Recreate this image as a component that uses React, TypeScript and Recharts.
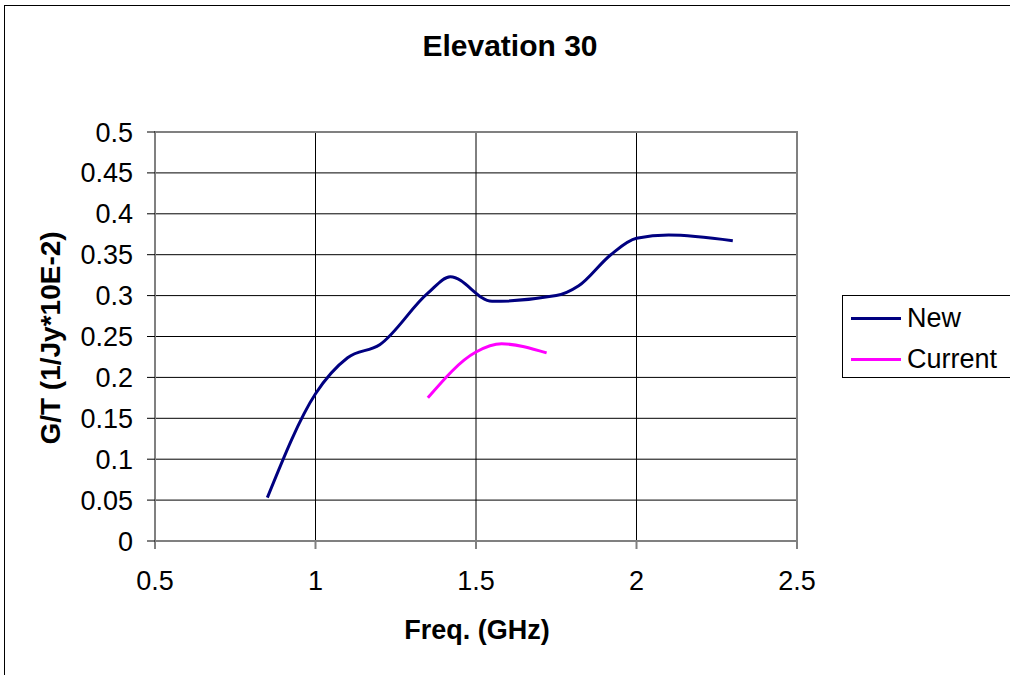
import React from 'react';
import { LineChart, Line, XAxis, YAxis, CartesianGrid, ReferenceArea, Legend } from 'recharts';

// G/T measurements at elevation 30 deg
const newFeed = [
  { freq: 0.85, gt: 0.053 },
  { freq: 1.0, gt: 0.18 },
  { freq: 1.1, gt: 0.224 },
  { freq: 1.2, gt: 0.24 },
  { freq: 1.35, gt: 0.303 },
  { freq: 1.42, gt: 0.323 },
  { freq: 1.55, gt: 0.293 },
  { freq: 1.75, gt: 0.3 },
  { freq: 1.82, gt: 0.312 },
  { freq: 1.92, gt: 0.35 },
  { freq: 2.0, gt: 0.37 },
  { freq: 2.1, gt: 0.374 },
  { freq: 2.3, gt: 0.367 },
];

const currentFeed = [
  { freq: 1.35, gt: 0.175 },
  { freq: 1.5, gt: 0.231 },
  { freq: 1.58, gt: 0.241 },
  { freq: 1.72, gt: 0.23 },
];

const seriesNames = ['New', 'Current'];

const xTicks = [0.5, 1, 1.5, 2, 2.5];
const yTicks = [0, 0.05, 0.1, 0.15, 0.2, 0.25, 0.3, 0.35, 0.4, 0.45, 0.5];

const FONT = '"Liberation Sans", Arial, sans-serif';

// legend keeps the series order instead of the alphabetical one
const LegendBox = ({ payload }: any) => {
  const items = [...(payload || [])].sort(
    (a: any, b: any) => seriesNames.indexOf(a.value) - seriesNames.indexOf(b.value)
  );
  return (
    <div
      style={{
        position: 'relative',
        width: 200,
        height: 81,
        border: '1px solid #000',
        background: '#fff',
        fontFamily: FONT,
        fontSize: 27,
        color: '#000',
      }}
    >
      {items.map((p: any, i: number) => (
        <div
          key={p.value}
          style={{ position: 'absolute', left: 8, top: 6 + i * 41, height: 32, display: 'flex', alignItems: 'center' }}
        >
          <div style={{ width: 50, height: 3, background: p.color, marginRight: 6 }} />
          <span style={{ lineHeight: '32px' }}>{p.value}</span>
        </div>
      ))}
    </div>
  );
};

export default function App() {
  return (
    <div
      style={{
        position: 'fixed',
        left: 0,
        top: 0,
        width: 1010,
        height: 675,
        overflow: 'hidden',
        background: '#fff',
        fontFamily: FONT,
      }}
    >
      <div
        style={{
          position: 'absolute',
          left: 4,
          top: 5,
          width: 1100,
          height: 800,
          border: '1px solid #000',
        }}
      />
      <div style={{ position: 'absolute', left: 0, top: 0 }}>
        <LineChart
          width={1010}
          height={675}
          margin={{ top: 132, right: 213, bottom: 34, left: 30 }}
        >
          <CartesianGrid stroke="#000" strokeWidth={1} />
          <XAxis
            type="number"
            dataKey="freq"
            domain={[0.5, 2.5]}
            ticks={xTicks}
            allowDuplicatedCategory={false}
            height={100}
            tickSize={8}
            tickMargin={22}
            axisLine={{ stroke: '#808080', strokeWidth: 2 }}
            tickLine={{ stroke: '#808080', strokeWidth: 2 }}
            tick={{ fill: '#000', fontSize: 27, fontFamily: FONT }}
          />
          <YAxis
            type="number"
            domain={[0, 0.5]}
            ticks={yTicks}
            width={125}
            tickSize={8}
            tickMargin={14}
            axisLine={{ stroke: '#808080', strokeWidth: 2 }}
            tickLine={{ stroke: '#000', strokeWidth: 1 }}
            tick={{ fill: '#000', fontSize: 27, fontFamily: FONT }}
          />
          <ReferenceArea
            x1={0.5}
            x2={2.5}
            y1={0}
            y2={0.5}
            fill="none"
            stroke="#808080"
            strokeWidth={2}
            ifOverflow="visible"
          />
          <Legend
            layout="vertical"
            align="center"
            verticalAlign="middle"
            wrapperStyle={{ left: 842, top: 295, width: 200 }}
            content={<LegendBox />}
          />
          <Line
            name={seriesNames[0]}
            data={newFeed}
            dataKey="gt"
            type="monotone"
            stroke="#000080"
            strokeWidth={3}
            dot={false}
            isAnimationActive={false}
          />
          <Line
            name={seriesNames[1]}
            data={currentFeed}
            dataKey="gt"
            type="monotone"
            stroke="#ff00ff"
            strokeWidth={3}
            dot={false}
            isAnimationActive={false}
          />
        </LineChart>
      </div>
      <svg
        width={1010}
        height={675}
        style={{ position: 'absolute', left: 0, top: 0, pointerEvents: 'none' }}
      >
        <text x={510} y={56} textAnchor="middle" fontSize={30} fontWeight="bold" fontFamily={FONT}>
          Elevation 30
        </text>
        <text x={477} y={639} textAnchor="middle" fontSize={27} fontWeight="bold" fontFamily={FONT}>
          Freq. (GHz)
        </text>
        <text
          x={0}
          y={0}
          transform="translate(60 338) rotate(-90)"
          textAnchor="middle"
          fontSize={28}
          fontWeight="bold"
          fontFamily={FONT}
        >
          G/T (1/Jy*10E-2)
        </text>
      </svg>
    </div>
  );
}
